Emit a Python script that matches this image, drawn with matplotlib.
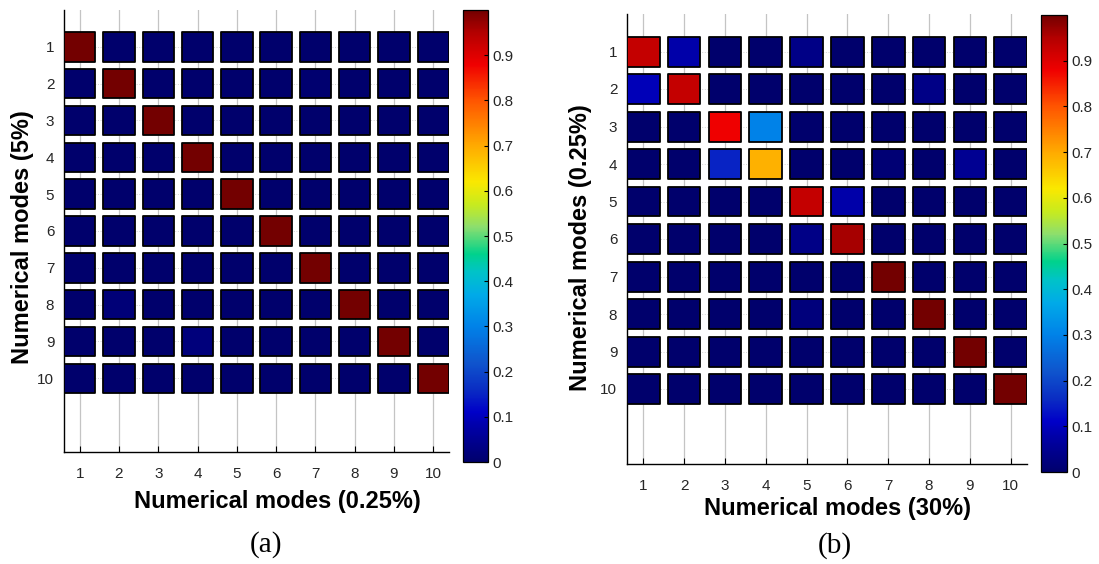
import matplotlib
matplotlib.use("Agg")
import matplotlib.pyplot as plt
from matplotlib.patches import Rectangle
from matplotlib.collections import PatchCollection
from matplotlib.colors import LinearSegmentedColormap
import numpy as np

plt.rcParams['font.family'] = ['Liberation Sans', 'DejaVu Sans']

modes = [1, 2, 3, 4, 5, 6, 7, 8, 9, 10]
cbar_ticks = [0, 0.1, 0.2, 0.3, 0.4, 0.5, 0.6, 0.7, 0.8, 0.9]
cbar_labels = ["0", "0.1", "0.2", "0.3", "0.4", "0.5", "0.6", "0.7", "0.8", "0.9"]

mac_a = [
    [1.00, 0.00, 0.00, 0.00, 0.00, 0.00, 0.00, 0.00, 0.00, 0.00],
    [0.00, 1.00, 0.00, 0.00, 0.00, 0.00, 0.005, 0.00, 0.00, 0.00],
    [0.00, 0.00, 1.00, 0.00, 0.00, 0.00, 0.00, 0.00, 0.00, 0.00],
    [0.00, 0.00, 0.00, 1.00, 0.00, 0.00, 0.00, 0.00, 0.00, 0.00],
    [0.00, 0.00, 0.00, 0.00, 1.00, 0.00, 0.00, 0.00, 0.00, 0.00],
    [0.00, 0.00, 0.00, 0.00, 0.00, 1.00, 0.00, 0.00, 0.00, 0.00],
    [0.00, 0.00, 0.00, 0.00, 0.00, 0.00, 1.00, 0.00, 0.00, 0.00],
    [0.00, 0.015, 0.00, 0.00, 0.00, 0.00, 0.00, 1.00, 0.00, 0.00],
    [0.00, 0.00, 0.00, 0.02, 0.00, 0.00, 0.00, 0.00, 1.00, 0.00],
    [0.00, 0.00, 0.00, 0.00, 0.00, 0.00, 0.00, 0.00, 0.00, 1.00],
]

mac_b = [
    [0.93, 0.08, 0.00, 0.00, 0.035, 0.00, 0.00, 0.00, 0.00, 0.00],
    [0.095, 0.93, 0.00, 0.00, 0.00, 0.00, 0.00, 0.035, 0.00, 0.00],
    [0.00, 0.00, 0.88, 0.30, 0.00, 0.00, 0.00, 0.00, 0.00, 0.00],
    [0.00, 0.00, 0.15, 0.69, 0.00, 0.00, 0.01, 0.00, 0.05, 0.00],
    [0.00, 0.00, 0.00, 0.00, 0.93, 0.08, 0.00, 0.00, 0.00, 0.00],
    [0.00, 0.00, 0.00, 0.00, 0.035, 0.96, 0.00, 0.00, 0.00, 0.00],
    [0.00, 0.00, 0.00, 0.00, 0.00, 0.00, 1.00, 0.00, 0.00, 0.00],
    [0.00, 0.00, 0.00, 0.00, 0.02, 0.00, 0.00, 1.00, 0.00, 0.00],
    [0.00, 0.00, 0.00, 0.00, 0.00, 0.00, 0.00, 0.00, 1.00, 0.00],
    [0.00, 0.00, 0.00, 0.00, 0.00, 0.00, 0.00, 0.00, 0.00, 1.00],
]

xlabel_a = "Numerical modes (0.25%)"
ylabel_a = "Numerical modes (5%)"
xlabel_b = "Numerical modes (30%)"
ylabel_b = "Numerical modes (0.25%)"

# colormap sampled from the reference colour bar (jet-like)
_anchors = [
    (0.00, (0, 0, 108)), (0.08, (0, 0, 170)), (0.11, (0, 0, 200)),
    (0.16, (10, 45, 195)), (0.22, (15, 85, 205)), (0.30, (0, 130, 232)),
    (0.37, (0, 170, 232)), (0.42, (0, 195, 200)), (0.46, (0, 210, 140)),
    (0.52, (140, 222, 110)), (0.57, (200, 235, 30)), (0.62, (250, 232, 0)),
    (0.70, (255, 170, 0)), (0.80, (255, 85, 0)), (0.88, (240, 0, 0)),
    (0.95, (180, 0, 0)), (1.00, (115, 0, 0)),
]
cmap = LinearSegmentedColormap.from_list(
    "refjet", [(p, tuple(c / 255 for c in rgb)) for p, rgb in _anchors], N=512)

W, H = 1099, 564
fig = plt.figure(figsize=(W / 100, H / 100), dpi=100)


def frac(l, t, r, b):
    return [l / W, 1 - b / H, (r - l) / W, (b - t) / H]


SZ = 0.8
TICK_COLOR = '#262626'
TICK_SIZE = 11


def panel(ax_rect, cax_rect, mat, xl, yl, xl_pos, yl_pos):
    ax = fig.add_axes(frac(*ax_rect))
    cax = fig.add_axes(frac(*cax_rect))
    mat = np.asarray(mat)
    rects, vals = [], []
    for i, ym in enumerate(modes):
        for j, xm in enumerate(modes):
            rects.append(Rectangle((xm - SZ / 2, ym - SZ / 2), SZ, SZ))
            vals.append(mat[i, j])
    pc = PatchCollection(rects, cmap=cmap, edgecolor='black', linewidth=1.3, zorder=3)
    pc.set_array(np.array(vals))
    pc.set_clim(0, 1.0)
    ax.add_collection(pc)
    ax.set_xlim(0.6, 10.4)
    ax.set_ylim(12, 0)
    ax.set_xticks(modes)
    ax.set_yticks(modes)
    ax.set_axisbelow(True)
    ax.xaxis.grid(True, color='#c4c4c4', linewidth=0.9, linestyle='-', zorder=0)
    ax.yaxis.grid(True, color='#d4d4d4', linewidth=0.7, linestyle=':', zorder=0)
    for s in ['top', 'right']:
        ax.spines[s].set_visible(False)
    for s in ['left', 'bottom']:
        ax.spines[s].set_linewidth(1.0)
        ax.spines[s].set_color('black')
    ax.tick_params(axis='x', direction='in', length=4, width=0.8, pad=11,
                   labelsize=TICK_SIZE, labelcolor=TICK_COLOR)
    ax.tick_params(axis='y', direction='in', length=4, width=0.8, pad=7,
                   labelsize=TICK_SIZE, labelcolor=TICK_COLOR)
    ax.set_xlabel(xl, fontsize=17, fontweight='bold', va='center')
    ax.set_ylabel(yl, fontsize=17, fontweight='bold', va='center')
    ax.xaxis.set_label_coords(*xl_pos)
    ax.yaxis.set_label_coords(*yl_pos)

    cb = fig.colorbar(pc, cax=cax, ticks=cbar_ticks)
    cb.ax.set_yticklabels(cbar_labels)
    cb.ax.tick_params(direction='in', length=3, width=0.8, pad=3,
                      labelsize=TICK_SIZE, labelcolor=TICK_COLOR)
    cb.outline.set_linewidth(0.9)
    return ax


panel((64, 10, 449, 452), (463, 10, 488, 462), mac_a, xlabel_a, ylabel_a,
      (0.553, -0.113), (-0.108, 0.486))
panel((627, 14, 1027, 464), (1041, 15, 1067, 472), mac_b, xlabel_b, ylabel_b,
      (0.525, -0.10), (-0.1175, 0.48))

fig.text(266 / W, 1 - 545 / H, "(a)", ha='center', va='center',
         fontsize=21, family='Liberation Serif')
fig.text(835 / W, 1 - 546 / H, "(b)", ha='center', va='center',
         fontsize=21, family='Liberation Serif')

fig.savefig("out.png", dpi=100)
